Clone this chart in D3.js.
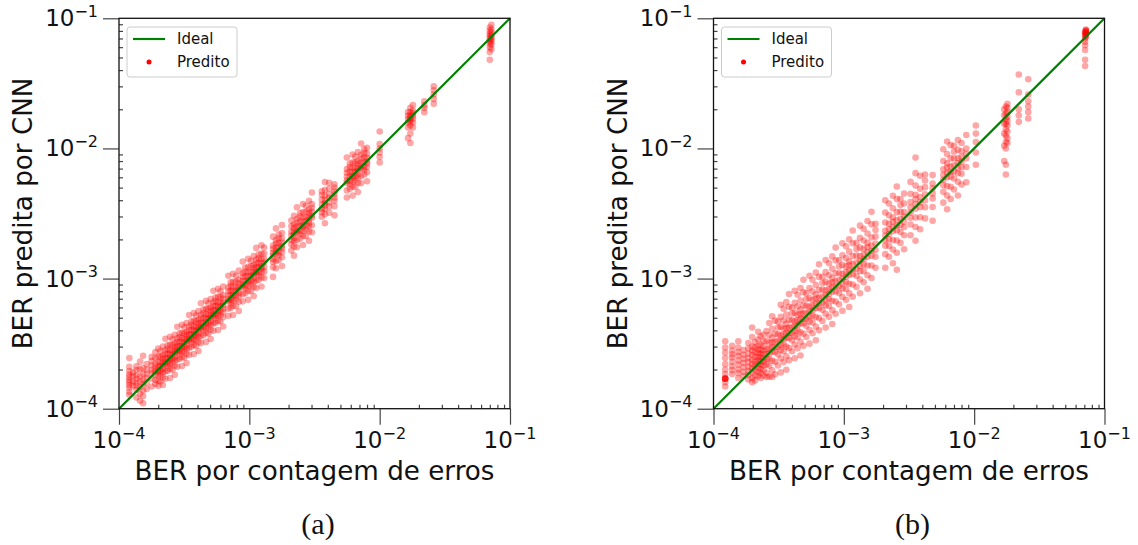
<!DOCTYPE html>
<html><head><meta charset="utf-8">
<script src="https://cdn.jsdelivr.net/npm/d3@7"></script>
<style>body{margin:0;background:#fff}svg{display:block}</style>
</head><body><svg id="c" width="1138" height="545"></svg>
<script>
// ---------- data ----------
const tickValues = [1e-4, 1e-3, 1e-2, 1e-1];
const tickExps = ["\u22124", "\u22123", "\u22122", "\u22121"];
const panelLabels = ["(a)", "(b)"];
const xTitle = "BER por contagem de erros";
const yTitle = "BER predita por CNN";
const legendLabels = ["Ideal", "Predito"];

// Panel (a): BER by error counting (x strips) and CNN predicted BER per strip
const berA = [1.2e-4,1.28e-4,1.36e-4,1.45e-4,1.53e-4,1.63e-4,1.78e-4,1.9e-4,2.0e-4,2.08e-4,2.17e-4,2.27e-4,2.36e-4,2.46e-4,2.57e-4,2.68e-4,2.8e-4,2.92e-4,3.04e-4,3.17e-4,3.3e-4,3.45e-4,3.6e-4,3.75e-4,3.9e-4,4.07e-4,4.25e-4,4.45e-4,4.65e-4,4.85e-4,5.05e-4,5.3e-4,5.5e-4,5.75e-4,6.0e-4,6.3e-4,6.9e-4,7.2e-4,7.5e-4,7.9e-4,8.3e-4,8.9e-4,9.3e-4,9.8e-4,1.03e-3,1.08e-3,1.13e-3,1.18e-3,1.24e-3,1.3e-3,1.52e-3,1.6e-3,1.68e-3,1.78e-3,2.1e-3,2.2e-3,2.32e-3,2.45e-3,2.58e-3,2.72e-3,2.87e-3,3.02e-3,3.6e-3,3.8e-3,4.1e-3,4.5e-3,5.6e-3,5.9e-3,6.2e-3,6.5e-3,6.8e-3,7.2e-3,7.6e-3,8.0e-3,1.0e-2,1.65e-2,1.72e-2,1.8e-2,2.2e-2,2.6e-2,7.0e-2,7.2e-2];
const predA = [
[1.28e-4,1.35e-4,1.45e-4,1.52e-4,1.6e-4,1.66e-4,1.75e-4,1.83e-4,1.95e-4,2.1e-4,2.45e-4],
[1.5e-4,1.62e-4,1.78e-4,1.9e-4],
[1.22e-4,1.4e-4,1.5e-4,1.58e-4,1.7e-4,1.8e-4,1.98e-4,2.12e-4],
[1.15e-4,1.3e-4,1.46e-4,1.62e-4,1.77e-4,2.0e-4,2.3e-4],
[1.1e-4,1.25e-4,1.38e-4,1.55e-4,1.67e-4,1.85e-4,2.05e-4,2.55e-4],
[1.42e-4,1.58e-4,1.72e-4,1.85e-4,2.0e-4,2.2e-4],
[1.48e-4,1.7e-4,1.88e-4,1.98e-4,2.15e-4,2.32e-4,2.5e-4],
[1.55e-4,1.66e-4,1.82e-4,1.95e-4,2.06e-4,2.2e-4,2.45e-4,2.72e-4],
[1.5e-4,1.64e-4,1.8e-4,1.92e-4,2.0e-4,2.12e-4,2.28e-4,2.52e-4,2.9e-4],
[1.62e-4,1.81e-4,1.96e-4,2.12e-4,2.27e-4,2.5e-4,2.77e-4],
[1.52e-4,1.74e-4,1.91e-4,2.02e-4,2.15e-4,2.26e-4,2.41e-4,2.56e-4,3.0e-4],
[1.7e-4,1.93e-4,2.2e-4,2.29e-4,2.45e-4,2.63e-4,2.81e-4,3.45e-4],
[1.96e-4,2.12e-4,2.24e-4,2.43e-4,2.64e-4,2.88e-4,3.07e-4],
[1.72e-4,2.02e-4,2.21e-4,2.36e-4,2.46e-4,2.61e-4,2.8e-4,3.1e-4,3.57e-4],
[2.0e-4,2.24e-4,2.42e-4,2.62e-4,2.8e-4,3.08e-4,3.42e-4],
[1.82e-4,2.14e-4,2.36e-4,2.49e-4,2.65e-4,2.79e-4,2.97e-4,3.16e-4,3.7e-4],
[2.1e-4,2.38e-4,2.72e-4,2.83e-4,3.02e-4,3.25e-4,3.47e-4,4.26e-4],
[2.42e-4,2.63e-4,2.77e-4,3.01e-4,3.27e-4,3.56e-4,3.8e-4],
[2.13e-4,2.49e-4,2.74e-4,2.92e-4,3.04e-4,3.22e-4,3.47e-4,3.83e-4,4.41e-4],
[2.47e-4,2.76e-4,2.98e-4,3.23e-4,3.46e-4,3.8e-4,4.22e-4],
[2.24e-4,2.64e-4,2.9e-4,3.07e-4,3.27e-4,3.43e-4,3.66e-4,3.89e-4,4.55e-4],
[2.59e-4,2.93e-4,3.35e-4,3.48e-4,3.73e-4,4.0e-4,4.28e-4,5.24e-4],
[2.99e-4,3.24e-4,3.42e-4,3.71e-4,4.03e-4,4.39e-4,4.68e-4],
[2.63e-4,3.08e-4,3.38e-4,3.6e-4,3.75e-4,3.98e-4,4.28e-4,4.73e-4,5.44e-4],
[3.04e-4,3.39e-4,3.67e-4,3.98e-4,4.25e-4,4.68e-4,5.19e-4],
[2.77e-4,3.26e-4,3.58e-4,3.79e-4,4.03e-4,4.23e-4,4.52e-4,4.8e-4,5.62e-4],
[3.19e-4,3.61e-4,4.12e-4,4.29e-4,4.59e-4,4.93e-4,5.27e-4,6.46e-4],
[3.69e-4,4.01e-4,4.23e-4,4.58e-4,4.98e-4,5.43e-4,5.79e-4],
[3.26e-4,3.81e-4,4.19e-4,4.46e-4,4.65e-4,4.93e-4,5.3e-4,5.86e-4,6.74e-4],
[3.78e-4,4.22e-4,4.56e-4,4.95e-4,5.29e-4,5.82e-4,6.45e-4],
[3.43e-4,4.04e-4,4.44e-4,4.7e-4,5.0e-4,5.25e-4,5.61e-4,5.96e-4,6.97e-4],
[3.98e-4,4.51e-4,5.14e-4,5.35e-4,5.72e-4,6.15e-4,6.57e-4,8.06e-4],
[4.57e-4,4.95e-4,5.23e-4,5.67e-4,6.16e-4,6.71e-4,7.15e-4],
[4.03e-4,4.72e-4,5.18e-4,5.52e-4,5.75e-4,6.1e-4,6.56e-4,7.25e-4,8.34e-4],
[4.68e-4,5.22e-4,5.64e-4,6.12e-4,6.54e-4,7.2e-4,7.98e-4],
[4.28e-4,5.04e-4,5.54e-4,5.86e-4,6.24e-4,6.55e-4,6.99e-4,7.43e-4,8.69e-4],
[5.18e-4,5.87e-4,6.69e-4,6.97e-4,7.45e-4,8.0e-4,8.56e-4,1.05e-3],
[5.98e-4,6.48e-4,6.84e-4,7.42e-4,8.06e-4,8.78e-4,9.36e-4],
[5.25e-4,6.15e-4,6.75e-4,7.2e-4,7.5e-4,7.95e-4,8.55e-4,9.45e-4,1.09e-3],
[6.16e-4,6.87e-4,7.43e-4,8.06e-4,8.61e-4,9.48e-4,1.05e-3],
[5.64e-4,6.64e-4,7.3e-4,7.72e-4,8.22e-4,8.63e-4,9.21e-4,9.79e-4,1.15e-3],
[6.68e-4,7.57e-4,8.63e-4,8.99e-4,9.61e-4,1.03e-3,1.1e-3,1.35e-3],
[7.72e-4,8.37e-4,8.84e-4,9.58e-4,1.04e-3,1.13e-3,1.21e-3],
[6.86e-4,8.04e-4,8.82e-4,9.41e-4,9.8e-4,1.04e-3,1.12e-3,1.23e-3,1.42e-3],
[8.03e-4,8.96e-4,9.68e-4,1.05e-3,1.12e-3,1.24e-3,1.37e-3],
[7.34e-4,8.64e-4,9.5e-4,1.0e-3,1.07e-3,1.12e-3,1.2e-3,1.27e-3,1.49e-3],
[8.48e-4,9.61e-4,1.1e-3,1.14e-3,1.22e-3,1.31e-3,1.4e-3,1.72e-3],
[9.79e-4,1.06e-3,1.12e-3,1.22e-3,1.32e-3,1.44e-3,1.53e-3],
[8.68e-4,1.02e-3,1.12e-3,1.19e-3,1.24e-3,1.31e-3,1.41e-3,1.56e-3,1.8e-3],
[1.01e-3,1.13e-3,1.22e-3,1.33e-3,1.42e-3,1.56e-3,1.73e-3],
[1.03e-3,1.22e-3,1.34e-3,1.41e-3,1.5e-3,1.58e-3,1.69e-3,1.79e-3,2.1e-3],
[1.2e-3,1.36e-3,1.55e-3,1.62e-3,1.73e-3,1.86e-3,1.98e-3,2.43e-3],
[1.39e-3,1.51e-3,1.6e-3,1.73e-3,1.88e-3,2.05e-3,2.18e-3],
[1.25e-3,1.46e-3,1.6e-3,1.71e-3,1.78e-3,1.89e-3,2.03e-3,2.24e-3,2.58e-3],
[1.64e-3,1.83e-3,1.97e-3,2.14e-3,2.29e-3,2.52e-3,2.79e-3],
[1.5e-3,1.76e-3,1.94e-3,2.05e-3,2.18e-3,2.29e-3,2.44e-3,2.6e-3,3.04e-3],
[1.74e-3,1.97e-3,2.25e-3,2.34e-3,2.51e-3,2.69e-3,2.88e-3,3.53e-3],
[2.03e-3,2.2e-3,2.33e-3,2.52e-3,2.74e-3,2.99e-3,3.19e-3],
[1.81e-3,2.12e-3,2.32e-3,2.48e-3,2.58e-3,2.73e-3,2.94e-3,3.25e-3,3.74e-3],
[2.12e-3,2.37e-3,2.56e-3,2.77e-3,2.96e-3,3.26e-3,3.62e-3],
[1.95e-3,2.3e-3,2.53e-3,2.67e-3,2.84e-3,2.98e-3,3.19e-3,3.39e-3,3.96e-3],
[2.27e-3,2.57e-3,2.93e-3,3.05e-3,3.26e-3,3.5e-3,3.74e-3,4.59e-3],
[2.99e-3,3.24e-3,3.42e-3,3.71e-3,4.03e-3,4.39e-3,4.68e-3],
[2.66e-3,3.12e-3,3.42e-3,3.65e-3,3.8e-3,4.03e-3,4.33e-3,4.79e-3,5.51e-3],
[3.2e-3,3.57e-3,3.85e-3,4.18e-3,4.47e-3,4.92e-3,5.45e-3],
[3.06e-3,3.6e-3,3.96e-3,4.19e-3,4.46e-3,4.68e-3,5.0e-3,5.31e-3],
[4.2e-3,4.76e-3,5.43e-3,5.66e-3,6.05e-3,6.5e-3,6.94e-3,8.51e-3],
[4.9e-3,5.31e-3,5.61e-3,6.08e-3,6.61e-3,7.2e-3,7.67e-3],
[4.34e-3,5.08e-3,5.58e-3,5.95e-3,6.2e-3,6.57e-3,7.07e-3,7.81e-3,8.99e-3],
[5.07e-3,5.66e-3,6.11e-3,6.63e-3,7.09e-3,7.8e-3,8.65e-3],
[4.62e-3,5.44e-3,5.98e-3,6.32e-3,6.73e-3,7.07e-3,7.55e-3,8.02e-3,9.38e-3],
[5.4e-3,6.12e-3,6.98e-3,7.27e-3,7.78e-3,8.35e-3,8.93e-3,1.09e-2],
[6.31e-3,6.84e-3,7.22e-3,7.83e-3,8.51e-3,9.27e-3,9.88e-3],
[5.6e-3,6.56e-3,7.2e-3,7.68e-3,8.0e-3,8.48e-3,9.12e-3,1.01e-2],
[7.8e-3,8.6e-3,9.3e-3,1.0e-2,1.08e-2,1.35e-2],
[1.2e-2,1.45e-2,1.58e-2,1.68e-2,1.78e-2,1.9e-2],
[1.1e-2,1.3e-2,1.5e-2,1.6e-2,1.66e-2,1.72e-2,1.8e-2,1.9e-2,2.05e-2],
[1.45e-2,1.58e-2,1.7e-2,1.78e-2,1.86e-2,1.95e-2,2.15e-2],
[1.9e-2,2.05e-2,2.15e-2,2.3e-2],
[2.2e-2,2.4e-2,2.6e-2,2.8e-2,3.0e-2],
[4.8e-2,5.5e-2,6.0e-2,6.4e-2,6.7e-2,7.0e-2,7.3e-2,7.6e-2,8.0e-2,8.5e-2],
[5.8e-2,6.3e-2,6.6e-2,6.9e-2,7.1e-2,7.4e-2,7.8e-2,8.2e-2,8.9e-2]
];

// Panel (b)
const berB = [1.23e-4,1.39e-4,1.55e-4,1.7e-4,1.85e-4,1.98e-4,2.08e-4,2.2e-4,2.3e-4,2.42e-4,2.55e-4,2.68e-4,2.82e-4,2.97e-4,3.12e-4,3.28e-4,3.45e-4,3.62e-4,3.8e-4,4.0e-4,4.2e-4,4.42e-4,4.65e-4,4.9e-4,5.15e-4,5.45e-4,5.75e-4,6.1e-4,6.45e-4,6.85e-4,7.25e-4,7.7e-4,8.15e-4,8.65e-4,9.2e-4,9.75e-4,1.04e-3,1.1e-3,1.17e-3,1.25e-3,1.33e-3,1.42e-3,1.52e-3,1.63e-3,1.75e-3,2.08e-3,2.22e-3,2.38e-3,2.55e-3,2.72e-3,2.9e-3,3.25e-3,3.55e-3,3.85e-3,4.2e-3,4.8e-3,5.8e-3,6.2e-3,6.6e-3,7.0e-3,7.5e-3,8.0e-3,8.7e-3,1.03e-2,1.7e-2,1.75e-2,1.8e-2,2.2e-2,2.6e-2,7.1e-2,7.2e-2];
const predB = [
[1.48e-4,1.6e-4,1.7e-4,1.7e-4,1.7e-4,1.72e-4,1.7e-4,1.85e-4,2.0e-4,2.2e-4,2.45e-4,2.7e-4,2.95e-4,3.3e-4],
[1.85e-4,1.98e-4,2.12e-4,2.3e-4,2.48e-4,2.62e-4,2.8e-4,3.05e-4],
[1.72e-4,1.88e-4,2.0e-4,2.18e-4,2.35e-4,2.55e-4,2.72e-4,2.95e-4,3.3e-4],
[1.78e-4,1.92e-4,2.08e-4,2.25e-4,2.42e-4,2.6e-4,2.82e-4],
[1.68e-4,1.82e-4,1.95e-4,2.1e-4,2.28e-4,2.45e-4,2.65e-4,2.9e-4,3.2e-4],
[1.6e-4,1.72e-4,1.9e-4,2.05e-4,2.2e-4,2.38e-4,2.6e-4,2.8e-4,3.0e-4,3.55e-4,4.2e-4],
[1.65e-4,1.8e-4,1.98e-4,2.15e-4,2.3e-4,2.5e-4,2.72e-4,2.95e-4,3.25e-4],
[1.78e-4,1.92e-4,2.08e-4,2.22e-4,2.36e-4,2.5e-4,2.68e-4,2.85e-4,3.05e-4,3.4e-4,3.9e-4],
[1.72e-4,1.88e-4,2.02e-4,2.18e-4,2.32e-4,2.48e-4,2.64e-4,2.82e-4,3.1e-4,3.6e-4],
[1.8e-4,1.98e-4,2.15e-4,2.3e-4,2.45e-4,2.62e-4,2.8e-4,3.0e-4,3.3e-4,3.7e-4],
[1.75e-4,1.89e-4,2.19e-4,2.4e-4,2.63e-4,2.86e-4,3.32e-4,3.95e-4],
[1.77e-4,2.14e-4,2.41e-4,2.65e-4,2.89e-4,3.19e-4,3.7e-4,4.56e-4],
[1.75e-4,1.97e-4,2.34e-4,2.74e-4,2.96e-4,3.24e-4,3.5e-4,4.12e-4,5.13e-4],
[1.84e-4,2.29e-4,2.73e-4,2.97e-4,3.27e-4,3.77e-4,4.75e-4],
[2.15e-4,2.62e-4,2.96e-4,3.31e-4,3.74e-4,4.21e-4,4.68e-4],
[1.9e-4,2.43e-4,2.82e-4,3.08e-4,3.38e-4,3.67e-4,4.26e-4,5.08e-4,6.3e-4],
[2.28e-4,2.76e-4,3.11e-4,3.42e-4,3.73e-4,4.11e-4,4.76e-4,5.87e-4],
[1.99e-4,2.53e-4,3.0e-4,3.51e-4,3.8e-4,4.16e-4,4.49e-4,5.29e-4,6.59e-4],
[2.36e-4,2.93e-4,3.5e-4,3.8e-4,4.18e-4,4.83e-4,6.08e-4,7.6e-4],
[2.76e-4,3.36e-4,3.8e-4,4.24e-4,4.8e-4,5.4e-4,6.0e-4],
[2.44e-4,3.11e-4,3.61e-4,3.95e-4,4.33e-4,4.7e-4,5.46e-4,6.51e-4,8.06e-4],
[2.92e-4,3.54e-4,3.98e-4,4.38e-4,4.77e-4,5.26e-4,6.1e-4,7.51e-4],
[2.56e-4,3.26e-4,3.86e-4,4.51e-4,4.88e-4,5.35e-4,5.77e-4,6.79e-4,8.46e-4],
[3.04e-4,3.77e-4,4.51e-4,4.9e-4,5.39e-4,6.22e-4,7.84e-4,9.8e-4],
[3.55e-4,4.33e-4,4.89e-4,5.46e-4,6.18e-4,6.95e-4,7.73e-4],
[3.16e-4,4.03e-4,4.69e-4,5.12e-4,5.61e-4,6.1e-4,7.09e-4,8.45e-4,1.05e-3],
[3.8e-4,4.6e-4,5.18e-4,5.69e-4,6.21e-4,6.84e-4,7.94e-4,9.78e-4],
[3.36e-4,4.27e-4,5.06e-4,5.92e-4,6.41e-4,7.02e-4,7.56e-4,8.91e-4,1.11e-3],
[4.0e-4,4.97e-4,5.93e-4,6.45e-4,7.1e-4,8.19e-4,1.03e-3,1.29e-3],
[4.73e-4,5.75e-4,6.51e-4,7.26e-4,8.22e-4,9.25e-4,1.03e-3],
[4.2e-4,5.37e-4,6.24e-4,6.82e-4,7.47e-4,8.12e-4,9.43e-4,1.12e-3,1.39e-3],
[5.08e-4,6.16e-4,6.93e-4,7.62e-4,8.32e-4,9.16e-4,1.06e-3,1.31e-3],
[4.48e-4,5.7e-4,6.76e-4,7.91e-4,8.56e-4,9.37e-4,1.01e-3,1.19e-3,1.48e-3],
[5.36e-4,6.66e-4,7.96e-4,8.65e-4,9.52e-4,1.1e-3,1.38e-3,1.73e-3],
[6.35e-4,7.73e-4,8.74e-4,9.75e-4,1.1e-3,1.24e-3,1.38e-3],
[5.66e-4,7.22e-4,8.39e-4,9.17e-4,1.0e-3,1.09e-3,1.27e-3,1.51e-3,1.87e-3],
[6.86e-4,8.32e-4,9.36e-4,1.03e-3,1.12e-3,1.24e-3,1.44e-3,1.77e-3],
[6.05e-4,7.7e-4,9.13e-4,1.07e-3,1.16e-3,1.27e-3,1.36e-3,1.61e-3,2.0e-3],
[7.25e-4,9.01e-4,1.08e-3,1.17e-3,1.29e-3,1.49e-3,1.87e-3,2.34e-3],
[8.63e-4,1.05e-3,1.19e-3,1.33e-3,1.5e-3,1.69e-3,1.88e-3],
[7.71e-4,9.84e-4,1.14e-3,1.25e-3,1.37e-3,1.49e-3,1.73e-3,2.06e-3,2.55e-3],
[9.37e-4,1.14e-3,1.28e-3,1.41e-3,1.53e-3,1.69e-3,1.96e-3,2.41e-3],
[8.36e-4,1.06e-3,1.26e-3,1.47e-3,1.6e-3,1.75e-3,1.88e-3,2.22e-3,2.77e-3],
[1.01e-3,1.26e-3,1.5e-3,1.63e-3,1.79e-3,2.07e-3,2.61e-3,3.26e-3],
[1.21e-3,1.47e-3,1.66e-3,1.86e-3,2.1e-3,2.36e-3,2.63e-3],
[1.21e-3,1.54e-3,1.79e-3,1.96e-3,2.14e-3,2.33e-3,2.7e-3,3.22e-3,3.99e-3],
[1.47e-3,1.78e-3,2.0e-3,2.2e-3,2.4e-3,2.64e-3,3.06e-3,3.77e-3],
[1.31e-3,1.67e-3,1.98e-3,2.31e-3,2.5e-3,2.74e-3,2.95e-3,3.47e-3,4.33e-3],
[1.17e-3,1.58e-3,1.96e-3,2.35e-3,2.55e-3,2.81e-3,3.24e-3,4.08e-3,5.1e-3],
[1.88e-3,2.28e-3,2.58e-3,2.88e-3,3.26e-3,3.67e-3,4.08e-3],
[1.68e-3,2.15e-3,2.49e-3,2.73e-3,2.99e-3,3.25e-3,3.77e-3,4.5e-3],
[2.15e-3,2.6e-3,2.93e-3,3.22e-3,3.51e-3,3.87e-3,4.49e-3,5.53e-3],
[1.95e-3,2.49e-3,2.95e-3,3.44e-3,3.73e-3,4.08e-3,4.4e-3,5.18e-3,6.46e-3,8.5e-3],
[2.39e-3,2.96e-3,3.54e-3,3.85e-3,4.24e-3,4.89e-3,6.16e-3],
[2.9e-3,3.53e-3,3.99e-3,4.45e-3,5.04e-3,5.67e-3,6.3e-3],
[2.78e-3,3.55e-3,4.13e-3,4.51e-3,4.94e-3,5.38e-3,6.24e-3],
[3.83e-3,4.64e-3,5.22e-3,5.74e-3,6.26e-3,6.9e-3,8.0e-3,9.86e-3],
[3.41e-3,4.34e-3,5.15e-3,6.01e-3,6.51e-3,7.13e-3,7.69e-3,9.05e-3,1.13e-2],
[4.09e-3,5.08e-3,6.07e-3,6.6e-3,7.26e-3,8.38e-3,1.06e-2],
[4.83e-3,5.88e-3,6.65e-3,7.42e-3,8.4e-3,9.45e-3,1.05e-2],
[4.35e-3,5.55e-3,6.45e-3,7.05e-3,7.73e-3,8.4e-3,9.75e-3,1.16e-2],
[5.28e-3,6.4e-3,7.2e-3,7.92e-3,8.64e-3,9.52e-3,1.1e-2],
[5.5e-3,7.2e-3,8.4e-3,9.1e-3,1.0e-2,1.27e-2],
[7.5e-3,9.3e-3,1.12e-2,1.3e-2,1.5e-2],
[8.0e-3,1.05e-2,1.3e-2,1.55e-2,1.8e-2,2.0e-2],
[6.3e-3,7.5e-3,1.0e-2,1.12e-2,1.25e-2,1.4e-2,1.55e-2,1.68e-2,1.85e-2,2.1e-2],
[1.1e-2,1.2e-2,1.35e-2,1.5e-2,1.62e-2,1.75e-2,1.9e-2,2.05e-2,2.2e-2],
[1.6e-2,1.8e-2,2.0e-2,2.7e-2,3.7e-2],
[1.7e-2,1.9e-2,2.1e-2,2.3e-2,2.6e-2,3.4e-2],
[4.3e-2,4.8e-2,5.7e-2,6.2e-2,6.6e-2,7.0e-2,7.3e-2,7.6e-2,7.8e-2],
[7.2e-2,7.4e-2,7.6e-2,7.7e-2,7.8e-2,7.9e-2,8.0e-2,8.1e-2,8.2e-2]
];

// ---------- drawing ----------
const svg = d3.select("#c");
const SANS = "DejaVu Sans, sans-serif";
const Y_TOP = 18.3, Y_BOT = 408.7;
const panels = [
  {x0: 119, x1: 510, ber: berA, pred: predA, label: panelLabels[0]},
  {x0: 713.5, x1: 1104.5, ber: berB, pred: predB, label: panelLabels[1]}
];
const minorTicks = [];
[1e-4, 1e-3, 1e-2].forEach(d => { for (let k = 2; k <= 9; k++) minorTicks.push(d * k); });

panels.forEach((p, pi) => {
  const x = d3.scaleLog().domain([1e-4, 1e-1]).range([p.x0, p.x1]);
  const y = d3.scaleLog().domain([1e-4, 1e-1]).range([Y_BOT, Y_TOP]);
  const g = svg.append("g");

  const pts = [];
  p.ber.forEach((b, i) => p.pred[i].forEach(v => pts.push([b, v])));

  g.append("g").selectAll("circle").data(pts).join("circle")
    .attr("cx", d => x(d[0])).attr("cy", d => y(d[1]))
    .attr("r", 3.3).attr("fill", "#ff0000").attr("fill-opacity", 0.35);

  g.append("path").datum([[1e-4, 1e-4], [1e-1, 1e-1]])
    .attr("d", d3.line().x(d => x(d[0])).y(d => y(d[1])))
    .attr("stroke", "#008000").attr("stroke-width", 2.2).attr("fill", "none");

  // axes
  const xMaj = g.append("g").attr("transform", `translate(0,${Y_BOT})`)
    .call(d3.axisBottom(x).tickValues(tickValues).tickSize(16).tickFormat(() => ""));
  const xMin = g.append("g").attr("transform", `translate(0,${Y_BOT})`)
    .call(d3.axisBottom(x).tickValues(minorTicks).tickSize(-4).tickFormat(() => ""));
  const yMaj = g.append("g").attr("transform", `translate(${p.x0},0)`)
    .call(d3.axisLeft(y).tickValues(tickValues).tickSize(16).tickFormat(() => ""));
  const yMin = g.append("g").attr("transform", `translate(${p.x0},0)`)
    .call(d3.axisLeft(y).tickValues(minorTicks).tickSize(-4).tickFormat(() => ""));
  [xMaj, xMin, yMaj, yMin].forEach(a => {
    a.select(".domain").remove();
    a.selectAll("line").attr("stroke", "#444").attr("stroke-width", 1.2);
  });

  // frame
  g.append("rect").attr("x", p.x0).attr("y", Y_TOP)
    .attr("width", p.x1 - p.x0).attr("height", Y_BOT - Y_TOP)
    .attr("fill", "none").attr("stroke", "#111").attr("stroke-width", 1.3);

  // tick labels
  tickValues.forEach((v, i) => {
    const tx = g.append("text").attr("x", x(v)).attr("y", 448)
      .attr("text-anchor", "middle").attr("font-family", SANS).attr("font-size", 23).attr("fill", "#111");
    tx.append("tspan").text("10");
    tx.append("tspan").attr("font-size", 16).attr("dy", -9.5).text(tickExps[i]);
    const ty = g.append("text").attr("x", p.x0 - 21).attr("y", y(v) + 8)
      .attr("text-anchor", "end").attr("font-family", SANS).attr("font-size", 23).attr("fill", "#111");
    ty.append("tspan").text("10");
    ty.append("tspan").attr("font-size", 16).attr("dy", -9.5).text(tickExps[i]);
  });

  // axis titles
  g.append("text").attr("x", (p.x0 + p.x1) / 2).attr("y", 480)
    .attr("text-anchor", "middle").attr("font-family", SANS).attr("font-size", 26.2).attr("fill", "#111")
    .text(xTitle);
  g.append("text").attr("transform", `translate(${p.x0 - 87},${(Y_TOP + Y_BOT) / 2}) rotate(-90)`)
    .attr("text-anchor", "middle").attr("font-family", SANS).attr("font-size", 26.2).attr("fill", "#111")
    .text(yTitle);

  // panel label
  g.append("text").attr("x", (p.x0 + p.x1) / 2 + 3.5).attr("y", 534)
    .attr("text-anchor", "middle").attr("font-family", "Liberation Serif, serif").attr("font-size", 30).attr("fill", "#111")
    .text(p.label);

  // legend
  const lg = g.append("g").attr("transform", `translate(${p.x0 + 8},27)`);
  lg.append("rect").attr("width", 110).attr("height", 50).attr("rx", 3)
    .attr("fill", "#fff").attr("fill-opacity", 0.8).attr("stroke", "#ccc").attr("stroke-width", 1);
  lg.append("line").attr("x1", 6).attr("x2", 38).attr("y1", 12).attr("y2", 12)
    .attr("stroke", "#008000").attr("stroke-width", 2.2);
  lg.append("circle").attr("cx", 22).attr("cy", 35).attr("r", 2.5).attr("fill", "#ff0000");
  lg.append("text").attr("x", 50).attr("y", 17).attr("font-family", SANS).attr("font-size", 15).attr("fill", "#111").text(legendLabels[0]);
  lg.append("text").attr("x", 50).attr("y", 40).attr("font-family", SANS).attr("font-size", 15).attr("fill", "#111").text(legendLabels[1]);
});
</script>
</body></html>
